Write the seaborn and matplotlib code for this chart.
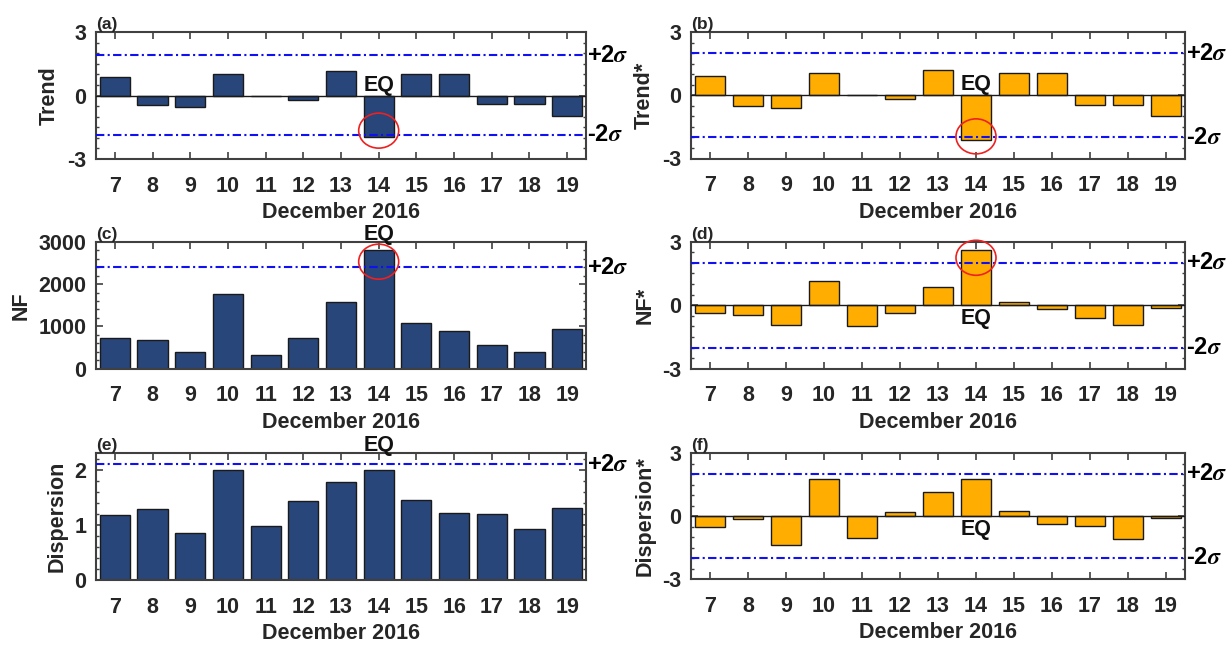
import matplotlib
matplotlib.use("Agg")
import matplotlib.pyplot as plt
import matplotlib.transforms as mtransforms
from matplotlib.patches import Ellipse
from matplotlib.ticker import MultipleLocator
import pandas as pd
import seaborn as sns

# ---- data ---------------------------------------------------------------
days = [7, 8, 9, 10, 11, 12, 13, 14, 15, 16, 17, 18, 19]

trend = [0.87, -0.46, -0.54, 1.03, 0.0, -0.19, 1.17, -1.94, 1.03, 1.03, -0.39, -0.39, -0.95]
trend_star = [0.92, -0.51, -0.59, 1.06, 0.0, -0.17, 1.21, -2.10, 1.06, 1.06, -0.44, -0.44, -0.98]
nf = [724, 677, 386, 1772, 331, 724, 1575, 2795, 1071, 882, 551, 386, 929]
nf_star = [-0.36, -0.46, -0.92, 1.12, -0.96, -0.36, 0.85, 2.59, 0.13, -0.16, -0.62, -0.92, -0.11]
dispersion = [1.17, 1.28, 0.85, 2.0, 0.97, 1.43, 1.77, 2.0, 1.45, 1.22, 1.19, 0.93, 1.31]
dispersion_star = [-0.51, -0.16, -1.38, 1.76, -1.06, 0.21, 1.16, 1.76, 0.24, -0.37, -0.46, -1.10, -0.10]

# +2sigma / -2sigma thresholds (None = not drawn)
trend_sigma = (1.90, -1.85)
trend_star_sigma = (2.0, -2.0)
nf_sigma = (2394, None)
nf_star_sigma = (2.0, -2.0)
dispersion_sigma = (2.10, None)
dispersion_star_sigma = (2.0, -2.0)

eq_day = 14
eq_label_y = {"a": 0.46, "b": 0.50, "c": 3175, "d": -0.62, "e": 2.44, "f": -0.62}
circle_y = {"a": -1.66, "b": -1.95, "c": 2528, "d": 2.24}

xlabel = "December 2016"

# ---- style --------------------------------------------------------------
sns.set_style("ticks")
plt.rcParams["font.family"] = ["Liberation Sans", "DejaVu Sans"]
plt.rcParams["font.weight"] = "bold"
plt.rcParams["mathtext.fontset"] = "stix"
plt.rcParams.update({
    "xtick.direction": "in", "ytick.direction": "in",
    "xtick.top": True, "ytick.right": True,
    "xtick.major.size": 5, "ytick.major.size": 5,
    "ytick.minor.size": 2.5, "ytick.minor.visible": True,
    "xtick.minor.visible": False,
    "xtick.major.width": 1.2, "ytick.major.width": 1.2,
    "ytick.minor.width": 1.0,
    "axes.linewidth": 1.5, "axes.edgecolor": "#404040",
    "xtick.color": "#404040", "ytick.color": "#404040",
    "xtick.labelcolor": "#262626", "ytick.labelcolor": "#262626",
})

NAVY = "#28467A"
ORANGE = "#FFAD00"
SIGMA_BLUE = "#1010F0"

FS_TICK = 15.5
FS_LABEL = 15.5
FS_SIGMA = 17
FS_TAG = 12.5

fig = plt.figure(figsize=(12.3, 6.47), dpi=100)

W = 1230.0
H = 647.0


def axes_rect(left, right, top, bottom):
    return [left / W, 1 - bottom / H, (right - left) / W, (bottom - top) / H]


panels = [
    dict(tag="a", values=trend, color=NAVY, ylabel="Trend", ylim=(-3, 3), yticks=[-3, 0, 3],
         minor=0.5, sigma=trend_sigma, rect=axes_rect(96, 586, 32, 159), zero=True),
    dict(tag="b", values=trend_star, color=ORANGE, ylabel="Trend*", ylim=(-3, 3), yticks=[-3, 0, 3],
         minor=0.5, sigma=trend_star_sigma, rect=axes_rect(691, 1185, 32, 158.5), zero=True),
    dict(tag="c", values=nf, color=NAVY, ylabel="NF", ylim=(0, 3000), yticks=[0, 1000, 2000, 3000],
         minor=200, sigma=nf_sigma, rect=axes_rect(96, 586, 241.7, 368.7), zero=False),
    dict(tag="d", values=nf_star, color=ORANGE, ylabel="NF*", ylim=(-3, 3), yticks=[-3, 0, 3],
         minor=0.5, sigma=nf_star_sigma, rect=axes_rect(691, 1185, 241.7, 368.7), zero=True),
    dict(tag="e", values=dispersion, color=NAVY, ylabel="Dispersion", ylim=(0, 2.3), yticks=[0, 1, 2],
         minor=0.2, sigma=dispersion_sigma, rect=axes_rect(96, 586, 453, 580), zero=False),
    dict(tag="f", values=dispersion_star, color=ORANGE, ylabel="Dispersion*", ylim=(-3, 3), yticks=[-3, 0, 3],
         minor=0.5, sigma=dispersion_star_sigma, rect=axes_rect(691, 1185, 453, 579), zero=True),
]

for p in panels:
    ax = fig.add_axes(p["rect"])
    df = pd.DataFrame({"day": days, "value": p["values"]})
    sns.barplot(data=df, x="day", y="value", native_scale=True, width=0.8,
                color=p["color"], saturation=1, edgecolor="#1a1a1a", linewidth=1.0,
                errorbar=None, ax=ax, zorder=2)

    ax.set_xlim(6.5, 19.5)
    ax.set_ylim(*p["ylim"])
    ax.set_xticks(days)
    ax.set_xticklabels([str(d) for d in days], fontsize=FS_TICK, fontweight="bold")
    ax.set_yticks(p["yticks"])
    ax.set_yticklabels([str(t) for t in p["yticks"]], fontsize=FS_TICK, fontweight="bold")
    ax.yaxis.set_minor_locator(MultipleLocator(p["minor"]))
    ax.tick_params(axis="x", which="major", pad=12)
    ax.tick_params(axis="y", which="major", pad=7)

    ax.set_xlabel(xlabel, fontsize=FS_LABEL, fontweight="bold", labelpad=4)
    ax.set_ylabel(p["ylabel"], fontsize=FS_LABEL, fontweight="bold", labelpad=5)

    if p["zero"]:
        ax.axhline(0, color="#1a1a1a", lw=1.0, zorder=3)

    # +/- 2 sigma thresholds
    up, lo = p["sigma"]
    for val, lab in ((up, "+2"), (lo, "-2")):
        if val is None:
            continue
        ax.axhline(val, color=SIGMA_BLUE, lw=1.5, ls=(0, (4, 1.6, 1, 1.6)), zorder=4)
        ax.text(1.002, val, lab + r"$\sigma$", transform=ax.get_yaxis_transform(),
                ha="left", va="center", fontsize=FS_SIGMA, fontweight="bold",
                color="black", clip_on=False)

    # panel tag
    ax.text(0.0, 1.0, f"({p['tag']})", transform=ax.transAxes, ha="left", va="bottom",
            fontsize=FS_TAG, fontweight="bold")

    # earthquake day label
    ax.text(eq_day, eq_label_y[p["tag"]], "EQ", ha="center", va="center",
            fontsize=FS_LABEL, fontweight="bold", color="#111111", clip_on=False, zorder=6)

    # anomaly circle around the earthquake bar
    if p["tag"] in circle_y:
        trans = fig.dpi_scale_trans + mtransforms.ScaledTranslation(
            eq_day, circle_y[p["tag"]], ax.transData)
        ell = Ellipse((0, 0), width=0.40, height=0.35, transform=trans,
                      fill=False, edgecolor="#EE2020", lw=1.2, zorder=7, clip_on=False)
        ax.add_patch(ell)

fig.savefig("out.png", dpi=100)
